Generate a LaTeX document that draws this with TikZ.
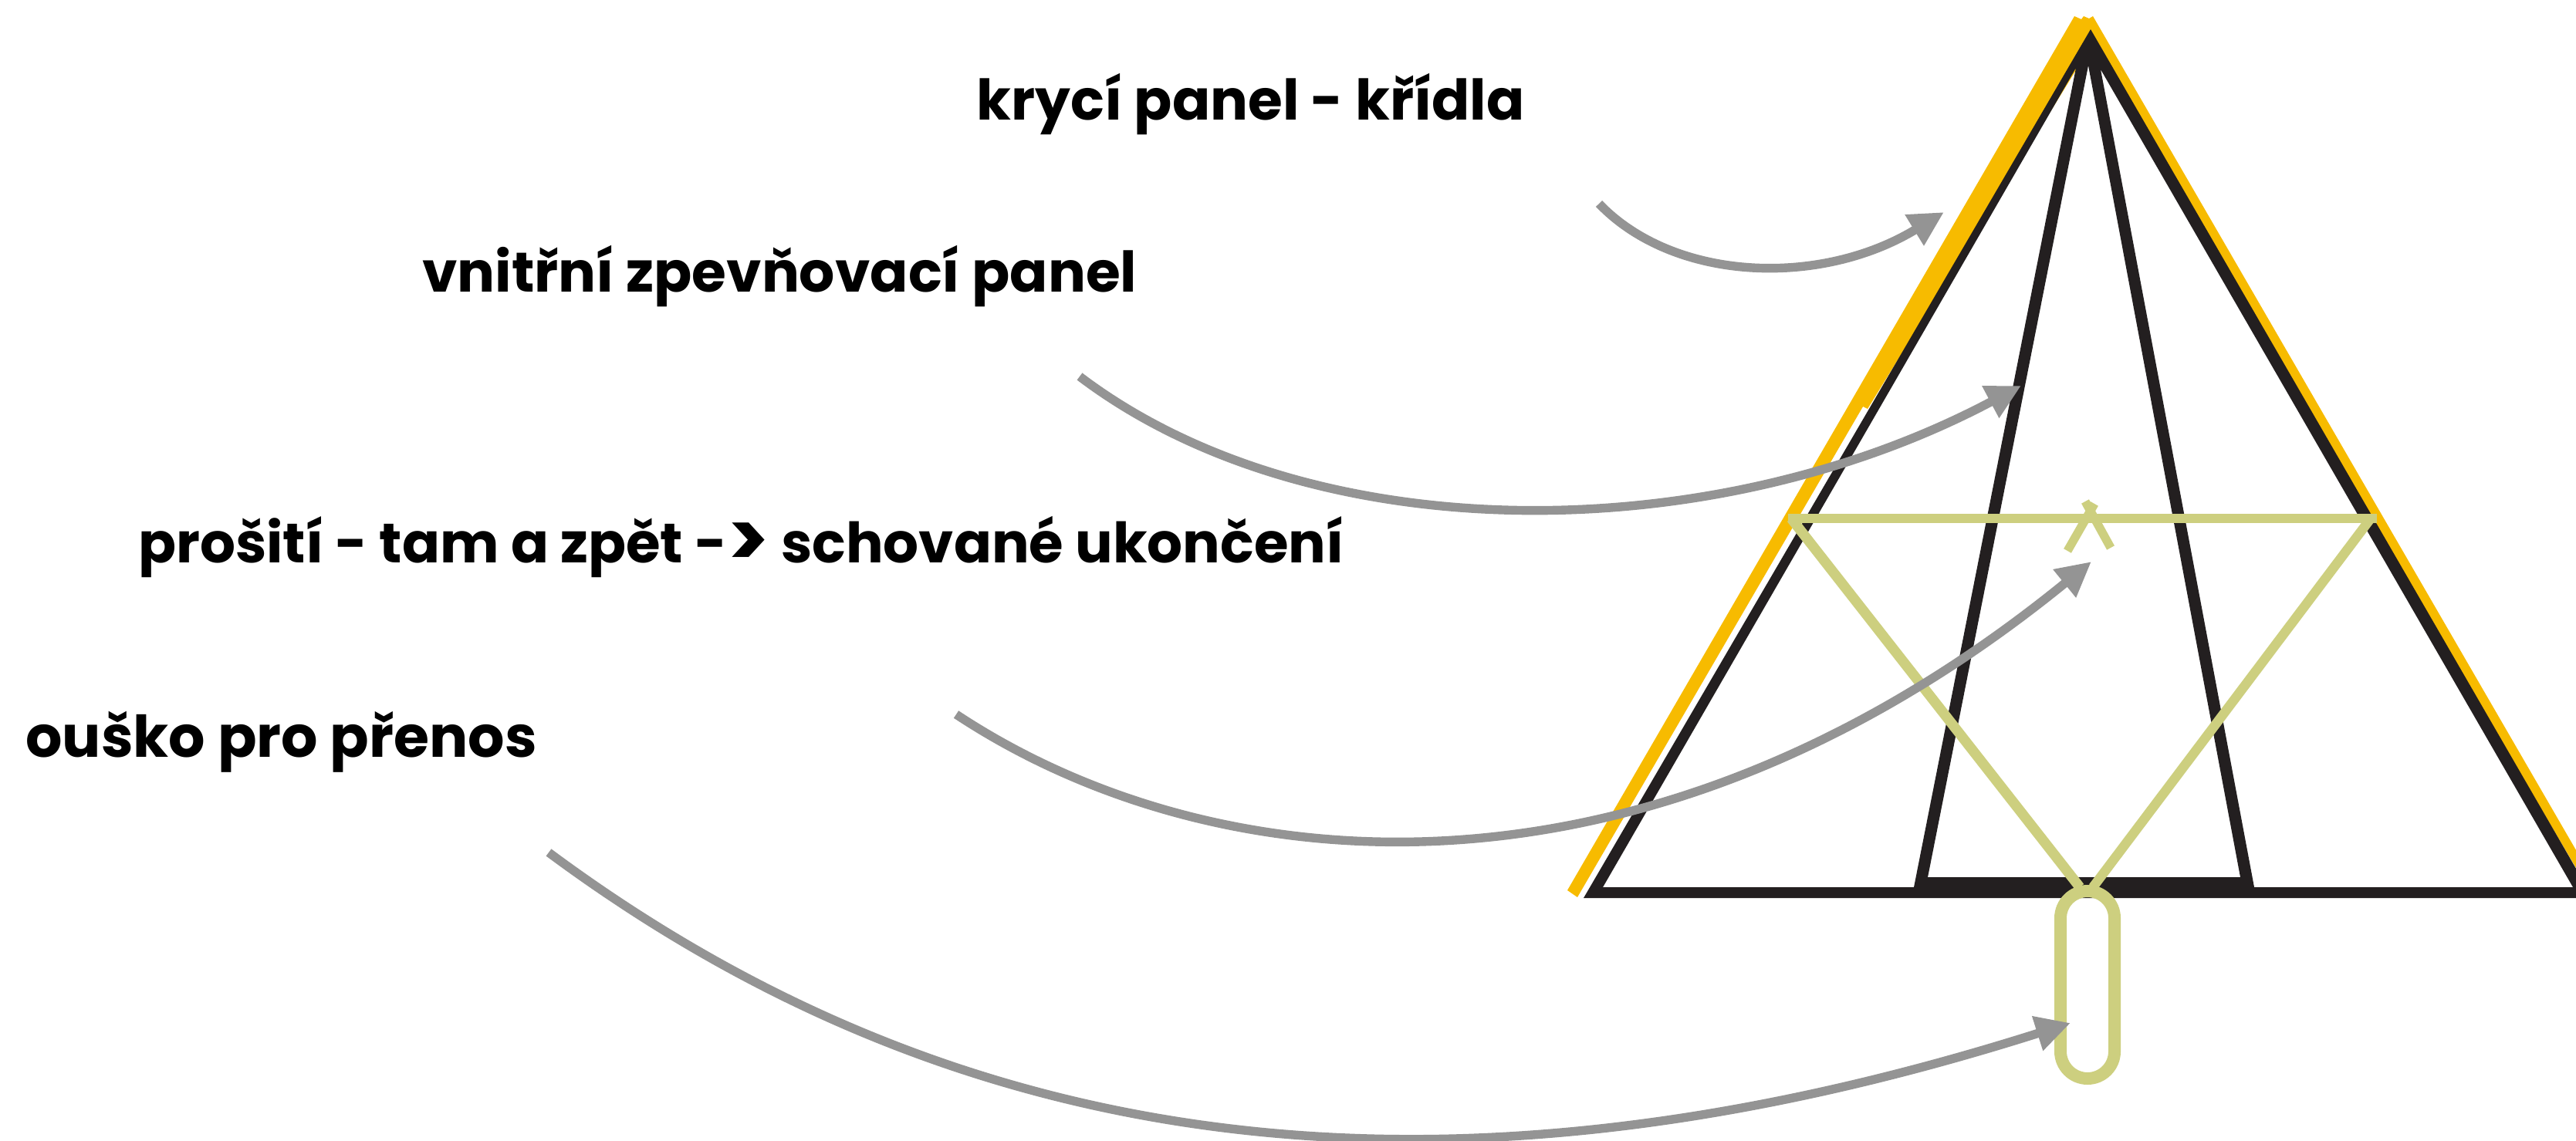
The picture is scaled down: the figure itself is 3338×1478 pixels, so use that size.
\documentclass[tikz,border=0pt]{standalone}
\usepackage{fontspec}
\usepackage{graphicx}
\setmainfont{Poppins}
\usetikzlibrary{arrows.meta}
\definecolor{inkblack}{HTML}{231F20}
\definecolor{wingyellow}{HTML}{F7BB00}
\definecolor{stitchgreen}{HTML}{CDCF7F}
\definecolor{arrowgray}{HTML}{949494}
\newcommand{\fitlabel}[2]{\resizebox{#1pt}{!}{\bfseries #2}}
\tikzset{
  caption/.style={anchor=base west,inner sep=0pt,text=black},
  stitch/.style={draw=stitchgreen,line width=5.6pt},
  pointer/.style={draw=arrowgray,line width=5.7pt,-{Triangle[length=22.5pt,width=22pt]}}
}
\begin{document}
\begin{tikzpicture}[x=0.5pt,y=-0.5pt]
\useasboundingbox (0,0) rectangle (3338,1478);
\clip (0,0) rectangle (3338,1478);
% yellow wing panel
\fill[wingyellow] (2688,21) -- (2031,1154) -- (2044,1163) -- (2414,527) -- (2420,530) -- (2709,60)
  -- (3338,1125) -- (3338,1102) -- (2712,21) -- (2707,24) -- (2700,21) -- (2697,25) -- cycle;
% black frame
\fill[inkblack,even odd rule]
  (2709,38) -- (2052,1164) -- (3360,1164) -- cycle
  (2690,88) -- (2077,1150) -- (2480,1150) -- cycle
  (2706,85) -- (2498,1137) -- (2903,1137) -- cycle
  (2722,90) -- (2921,1150) -- (3334,1150) -- cycle;
% stitching
\draw[stitch] (2317,672) -- (3080,672);
\draw[stitch,line width=6.6pt] (2321,672) -- (2695,1150);
\draw[stitch,line width=6.2pt] (3072,672) -- (2712,1150);
\draw[stitch] (2679,714) -- (2714,653);
\draw[stitch] (2735,710) -- (2702,650);
\draw[stitchgreen,line width=8pt,rounded corners=17.5pt] (2670,1155) rectangle (2740,1398);
% labels
\node[caption] (t1) at (1265,155) {\fitlabel{355}{krycí panel - křídla}};
\node[caption] (t2) at (547,378) {\fitlabel{463}{vnitřní zpevňovací panel}};
\node[caption] (t3) at (179,729) {\fitlabel{781}{prošití - tam a zpět -\raisebox{-.09em}{\scalebox{1.4}{>}} schované ukončení}};
\node[caption] (t4) at (33,981) {\fitlabel{331}{ouško pro přenos}};
% pointer ends
\coordinate (s1) at (2072,264);
\coordinate (e1) at (2519,275);
\coordinate (s2) at (1399,488);
\coordinate (e2) at (2619,500);
\coordinate (s3) at (1239,926);
\coordinate (e3) at (2710,728);
\coordinate (s4) at (711,1105);
\coordinate (e4) at (2683,1326);
\draw[pointer] (s1) .. controls (2170,366) and (2360,372) .. (e1);
\draw[pointer] (s2) .. controls (1700,716) and (2220,712) .. (e2);
\draw[pointer] (s3) .. controls (1570,1145) and (2130,1200) .. (e3);
\draw[pointer] (s4) .. controls (1230,1490) and (1850,1590) .. (e4);
\end{tikzpicture}
\end{document}
